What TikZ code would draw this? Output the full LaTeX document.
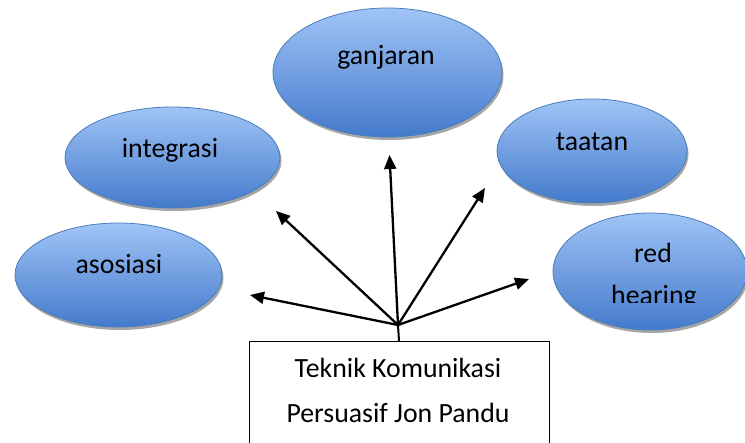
\documentclass[tikz,border=0pt]{standalone}
\usepackage{fontspec}
\setmainfont{Carlito}
\usetikzlibrary{shapes.geometric,shadows,arrows.meta}
\definecolor{eltop}{RGB}{160,196,246}
\definecolor{elbot}{RGB}{68,122,204}
\definecolor{elline}{RGB}{74,126,187}
\begin{document}
\begin{tikzpicture}[x=1pt,y=-1pt,
  bubble/.style={ellipse, draw=elline, line width=0.8pt, top color=eltop, bottom color=elbot,
    drop shadow={shadow xshift=1.5pt, shadow yshift=-3pt, fill=black!35, opacity=1}, inner sep=0pt},
  lbl/.style={font=\fontsize{27.8}{45}\selectfont, anchor=base, inner sep=0pt},
  arr/.style={line width=2.3pt, -{Triangle[length=14pt,width=12pt]}}]
\useasboundingbox (0,0) rectangle (745,443);
\node[bubble, minimum width=229pt, minimum height=129pt] (ganjaran) at (387.5,72.5) {};
\node[bubble, minimum width=215pt, minimum height=101pt] (integrasi) at (172.5,157.5) {};
\node[bubble, minimum width=190pt, minimum height=104pt] (taatan) at (592,151) {};
\node[bubble, minimum width=207pt, minimum height=104pt] (asosiasi) at (118.5,275) {};
\node[bubble, minimum width=194pt, minimum height=117pt] (red) at (650,271.5) {};
\node[lbl] (tganjaran) at (386,65) {ganjaran};
\node[lbl] (tintegrasi) at (170,158) {integrasi};
\node[lbl] (ttaatan) at (592,151) {taatan};
\node[lbl] (tasosiasi) at (119,274) {asosiasi};
\node[lbl] (tred) at (653,263) {red};
\begin{scope}
  \clip (540,200) rectangle (745,303);
  \node[lbl] (thearing) at (654,305) {hearing};
\end{scope}
\node[draw, line width=0.8pt, minimum width=300pt, minimum height=120pt, anchor=north, inner sep=0pt] (box) at (399,341) {};
\node[lbl] (t1) at (398,378) {Teknik Komunikasi};
\node[lbl] (t2) at (398,423) {Persuasif Jon Pandu};
\coordinate (hub) at (398,325);
\coordinate (pA) at (250,295);
\coordinate (pB) at (276,211);
\coordinate (pC) at (389.5,155);
\coordinate (pD) at (485,188);
\coordinate (pE) at (529,279);
\draw[line width=2pt] (box.north) -- (hub);
\draw[arr] (hub) -- (pA);
\draw[arr] (hub) -- (pB);
\draw[arr] (hub) -- (pC);
\draw[arr] (hub) -- (pD);
\draw[arr] (hub) -- (pE);
\end{tikzpicture}
\end{document}
